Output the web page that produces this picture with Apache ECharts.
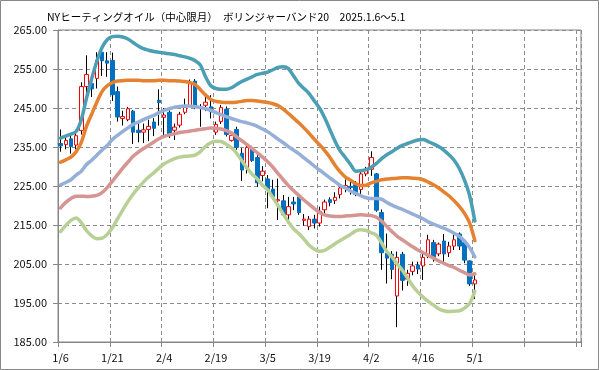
<!DOCTYPE html>
<html><head><meta charset="utf-8">
<script src="https://cdn.jsdelivr.net/npm/echarts@6/dist/echarts.min.js"></script>
<style>html,body{margin:0;padding:0;background:#fff}#c{width:599px;height:370px}</style>
</head><body><div id="c"></div>
<script>
const titleText = 'NYヒーティングオイル（中心限月）　ボリンジャーバンド20　2025.1.6～5.1';
const dates = ['1/6','1/7','1/8','1/9','1/10','1/13','1/14','1/15','1/16','1/17',
 '1/21','1/22','1/23','1/24','1/27','1/28','1/29','1/30','1/31','2/3',
 '2/4','2/5','2/6','2/7','2/10','2/11','2/12','2/13','2/14','2/18',
 '2/19','2/20','2/21','2/24','2/25','2/26','2/27','2/28','3/3','3/4',
 '3/5','3/6','3/7','3/10','3/11','3/12','3/13','3/14','3/17','3/18',
 '3/19','3/20','3/21','3/24','3/25','3/26','3/27','3/28','3/31','4/1',
 '4/2','4/3','4/4','4/7','4/8','4/9','4/10','4/11','4/14','4/15',
 '4/16','4/17','4/21','4/22','4/23','4/24','4/25','4/28','4/29','4/30',
 '5/1'];
const open = [235.9,235.6,237.1,235.5,239.2,250.5,251.3,252.6,259.3,257.1,
 257.2,249.2,242.3,242.0,244.2,239.3,238.8,239.5,241.4,247.0,
 242.6,243.9,239.3,240.6,243.9,245.6,251.9,244.9,245.7,245.3,
 238.8,241.5,244.7,236.7,239.5,233.4,229.5,234.7,232.3,227.7,
 226.8,224.2,221.2,221.2,217.6,220.9,222.2,216.2,214.6,216.5,
 215.5,218.9,221.5,221.3,222.8,224.4,224.9,225.4,224.1,228.1,
 229.3,228.1,218.2,207.7,207.5,196.8,207.5,201.1,203.1,204.7,
 204.5,207.1,210.5,207.6,210.9,207.9,209.6,212.7,210.5,205.8,
 199.9];
const close = [235.3,236.7,235.1,237.9,250.5,253.6,249.9,257.2,257.1,256.5,
 248.4,242.7,242.8,244.8,238.8,238.7,239.4,240.3,239.8,246.4,
 243.2,238.0,240.1,243.4,245.2,251.6,245.5,245.3,246.5,244.0,
 240.8,245.1,238.2,238.0,234.9,229.1,234.9,231.5,225.8,228.8,
 224.0,222.3,221.5,217.6,219.7,220.4,218.2,216.5,216.5,215.5,
 218.5,220.9,220.8,222.1,224.5,225.1,224.6,222.9,228.1,229.1,
 232.3,218.8,207.9,206.5,203.6,206.7,200.8,202.6,204.5,203.7,
 206.7,211.2,206.7,210.1,207.6,209.6,211.2,209.6,206.0,199.9,
 200.9];
const low = [233.8,234.4,233.3,234.4,238.2,248.5,247.8,250.0,253.2,253.0,
 246.8,241.5,240.5,241.6,235.8,236.2,236.0,236.5,237.8,240.5,
 238.0,237.3,236.8,240.0,243.4,245.3,244.7,240.2,244.2,242.3,
 238.1,240.9,237.7,236.4,234.3,226.3,228.2,231.2,224.8,226.2,
 219.3,221.5,216.3,217.1,216.3,218.8,217.6,214.8,213.7,214.1,
 214.6,217.8,219.8,220.4,221.8,223.4,222.8,222.4,222.6,227.5,
 227.6,218.4,203.5,200.0,201.1,188.8,198.2,199.4,202.1,202.4,
 200.9,206.5,205.6,207.0,205.0,206.8,208.6,208.6,205.2,199.4,
 196.0];
const high = [239.5,237.5,238.1,239.0,251.6,258.5,251.5,259.3,259.4,259.3,
 259.2,250.5,244.3,245.3,244.5,241.2,241.0,242.0,242.4,249.8,
 245.0,244.4,241.0,244.0,247.4,252.3,252.4,246.0,248.1,248.3,
 241.5,245.8,245.4,238.9,240.2,234.7,235.3,235.3,232.9,230.1,
 227.8,226.6,226.9,222.7,222.2,222.2,222.7,217.8,217.3,217.6,
 219.7,221.5,222.1,223.4,225.5,226.7,226.1,226.3,229.1,229.9,
 233.9,228.3,219.0,212.8,208.3,208.2,208.1,203.5,205.6,205.6,
 207.7,212.5,211.2,210.5,212.7,210.7,212.5,213.1,210.8,205.9,
 202.5];
const upper2 = [237.3,237.8,238.3,239.0,242.0,247.5,252.5,257.0,260.5,262.5,
 263.3,263.4,263.2,262.7,261.8,260.9,260.2,259.8,259.5,259.3,
 259.1,258.9,258.7,258.4,258.1,257.7,257.1,256.0,253.0,250.7,
 250.0,249.8,249.8,250.2,251.0,251.8,252.4,253.0,253.6,253.9,
 254.2,254.8,255.4,255.6,255.1,253.2,251.3,250.0,248.7,246.8,
 245.0,242.5,239.5,236.5,234.0,232.3,230.5,228.8,228.9,229.2,
 229.8,230.8,232.0,233.0,233.8,234.7,235.4,235.9,236.4,236.8,
 236.9,236.4,235.8,235.1,234.2,233.0,231.6,229.5,226.5,222.5,
 216.0];
const upper1 = [231.1,231.7,232.4,233.8,236.2,240.3,243.4,246.5,249.2,250.7,
 251.5,251.9,252.0,252.1,252.1,252.1,252.0,252.0,252.0,252.1,
 252.1,252.0,252.0,251.9,251.8,251.5,251.0,249.7,248.3,247.2,
 246.7,246.5,246.4,246.4,246.5,246.7,246.9,246.9,246.8,246.6,
 246.4,246.1,245.6,244.7,243.6,242.4,241.2,239.9,238.5,237.0,
 235.6,234.1,232.4,230.3,228.6,227.3,226.5,225.6,225.1,225.2,
 225.8,226.2,226.6,226.8,226.9,227.0,227.1,227.1,227.0,226.9,
 226.6,226.0,225.3,224.5,223.5,222.5,221.2,219.8,218.0,215.5,
 211.0];
const ma20 = [225.3,225.9,226.6,227.8,228.8,230.5,231.6,232.9,234.2,235.4,
 236.9,238.0,239.0,239.9,240.8,241.4,242.0,242.6,243.1,243.8,
 244.4,244.8,245.2,245.4,245.5,245.5,245.3,245.1,244.8,244.4,
 243.8,243.3,242.8,242.3,241.9,241.5,241.2,240.8,240.3,239.6,
 238.9,238.0,237.0,236.1,235.1,234.2,233.3,232.2,231.2,230.1,
 229.1,228.1,227.1,226.1,225.1,224.5,223.7,223.1,222.5,222.0,
 221.8,221.8,221.6,220.8,220.1,219.5,219.0,218.4,217.8,217.2,
 216.6,215.8,215.2,214.7,214.2,213.6,212.9,212.1,210.9,209.2,
 206.8];
const lower1 = [219.4,220.8,221.8,222.4,222.4,222.3,222.4,222.6,223.3,224.6,
 226.2,227.9,229.6,231.1,232.6,233.7,234.6,235.4,236.3,237.1,
 237.7,238.1,238.4,238.7,238.9,239.1,239.3,239.5,239.7,239.9,
 239.8,239.6,239.2,238.6,237.6,236.6,235.6,234.6,233.5,232.4,
 231.2,229.8,228.2,226.6,225.1,223.8,222.6,221.4,220.3,219.2,
 218.2,217.6,217.3,217.2,217.2,217.3,217.4,217.5,217.6,217.5,
 217.4,217.0,216.0,214.6,213.3,212.1,211.2,210.3,209.4,208.6,
 207.9,207.2,206.5,205.8,205.2,204.6,204.1,203.4,202.8,202.2,
 202.5];
const lower2 = [213.3,214.9,216.2,216.8,215.6,213.6,212.2,211.5,211.6,212.6,
 214.3,216.6,218.8,221.0,222.9,224.5,226.0,227.3,228.4,229.6,
 230.7,231.4,232.0,232.4,232.6,232.7,232.9,233.8,235.2,236.1,
 236.5,236.4,235.7,234.8,233.4,231.5,229.6,228.0,226.8,225.2,
 224.0,222.0,220.0,217.8,215.8,214.0,212.8,211.4,209.8,208.8,
 208.3,208.5,209.3,210.2,211.0,211.8,212.6,213.5,213.8,213.6,
 213.0,212.4,210.4,208.2,206.8,205.0,203.4,201.4,199.4,197.8,
 196.5,195.4,194.5,193.5,193.0,192.8,192.9,193.0,193.7,194.9,
 198.0];
const yMin = 185, yMax = 265, yStep = 10;
const totalSlots = 101;   // category slots on the axis (empty after 5/1)
const labelEvery = 10;

const cats = dates.slice();
for (let i = dates.length; i < totalSlots; i++) cats.push('_' + i);

const wickData = dates.map((d, i) => [open[i], close[i], low[i], high[i]]);
const bodyData = dates.map((d, i) => [open[i], close[i], Math.min(open[i], close[i]), Math.max(open[i], close[i])]);

const every = (idx) => idx % labelEvery === 0;
const gridGray = '#8c8c8c';
const axisGray = '#868686';
const font = '"Noto Sans CJK JP", "Noto Sans", sans-serif';

function bandLine(name, data, color) {
  return { name, type: 'line', data, symbol: 'none', showSymbol: false, smooth: 0.3,
    lineStyle: { color, width: 3.5, cap: 'round', join: 'round' }, z: 5, silent: true };
}

const chart = echarts.init(document.getElementById('c'), null, { renderer: 'canvas' });
chart.setOption({
  animation: false,
  backgroundColor: '#fff',
  title: { text: titleText, left: 42, top: 7,
    textStyle: { fontSize: 10.5, fontWeight: 'normal', color: '#000', fontFamily: font } },
  graphic: [{ type: 'rect', shape: { x: 0.5, y: 0.5, width: 598, height: 369 },
    style: { fill: 'none', stroke: '#888', lineWidth: 1 }, silent: true }],
  grid: { left: 58, right: 18, top: 30, bottom: 28, show: true, borderColor: axisGray, borderWidth: 1 },
  xAxis: {
    type: 'category', data: cats, boundaryGap: true,
    axisLine: { lineStyle: { color: axisGray } },
    axisTick: { show: true, interval: every, length: 5, lineStyle: { color: axisGray } },
    axisLabel: { interval: every, formatter: (v, i) => (i < dates.length ? v : ''),
      color: '#111', fontSize: 11, margin: 10, fontFamily: font },
    splitLine: { show: true, interval: every, lineStyle: { color: gridGray, type: [4, 3], width: 1 } }
  },
  yAxis: {
    type: 'value', min: yMin, max: yMax, interval: yStep,
    axisLine: { show: true, lineStyle: { color: axisGray } },
    axisTick: { show: true, length: 5, lineStyle: { color: axisGray } },
    axisLabel: { formatter: v => v.toFixed(2), color: '#111', fontSize: 11, margin: 11, fontFamily: font },
    splitLine: { show: true, lineStyle: { color: gridGray, type: [4, 3], width: 1 } }
  },
  series: [
    { name: 'wick', type: 'candlestick', data: wickData, barWidth: 1, z: 2, silent: true,
      itemStyle: { color: '#000', color0: '#000', borderColor: '#000', borderColor0: '#000', borderWidth: 1 } },
    { name: 'body', type: 'candlestick', data: bodyData, barWidth: 4, z: 3, silent: true,
      itemStyle: { color: '#fff', color0: '#0070C0', borderColor: '#FF0000', borderColor0: '#0070C0', borderWidth: 1 } },
    bandLine('+2σ', upper2, '#4A9FB4'),
    bandLine('+1σ', upper1, '#E5812F'),
    bandLine('MA20', ma20, '#95AFD8'),
    bandLine('-1σ', lower1, '#D49593'),
    bandLine('-2σ', lower2, '#B8D096')
  ]
});
</script></body></html>
